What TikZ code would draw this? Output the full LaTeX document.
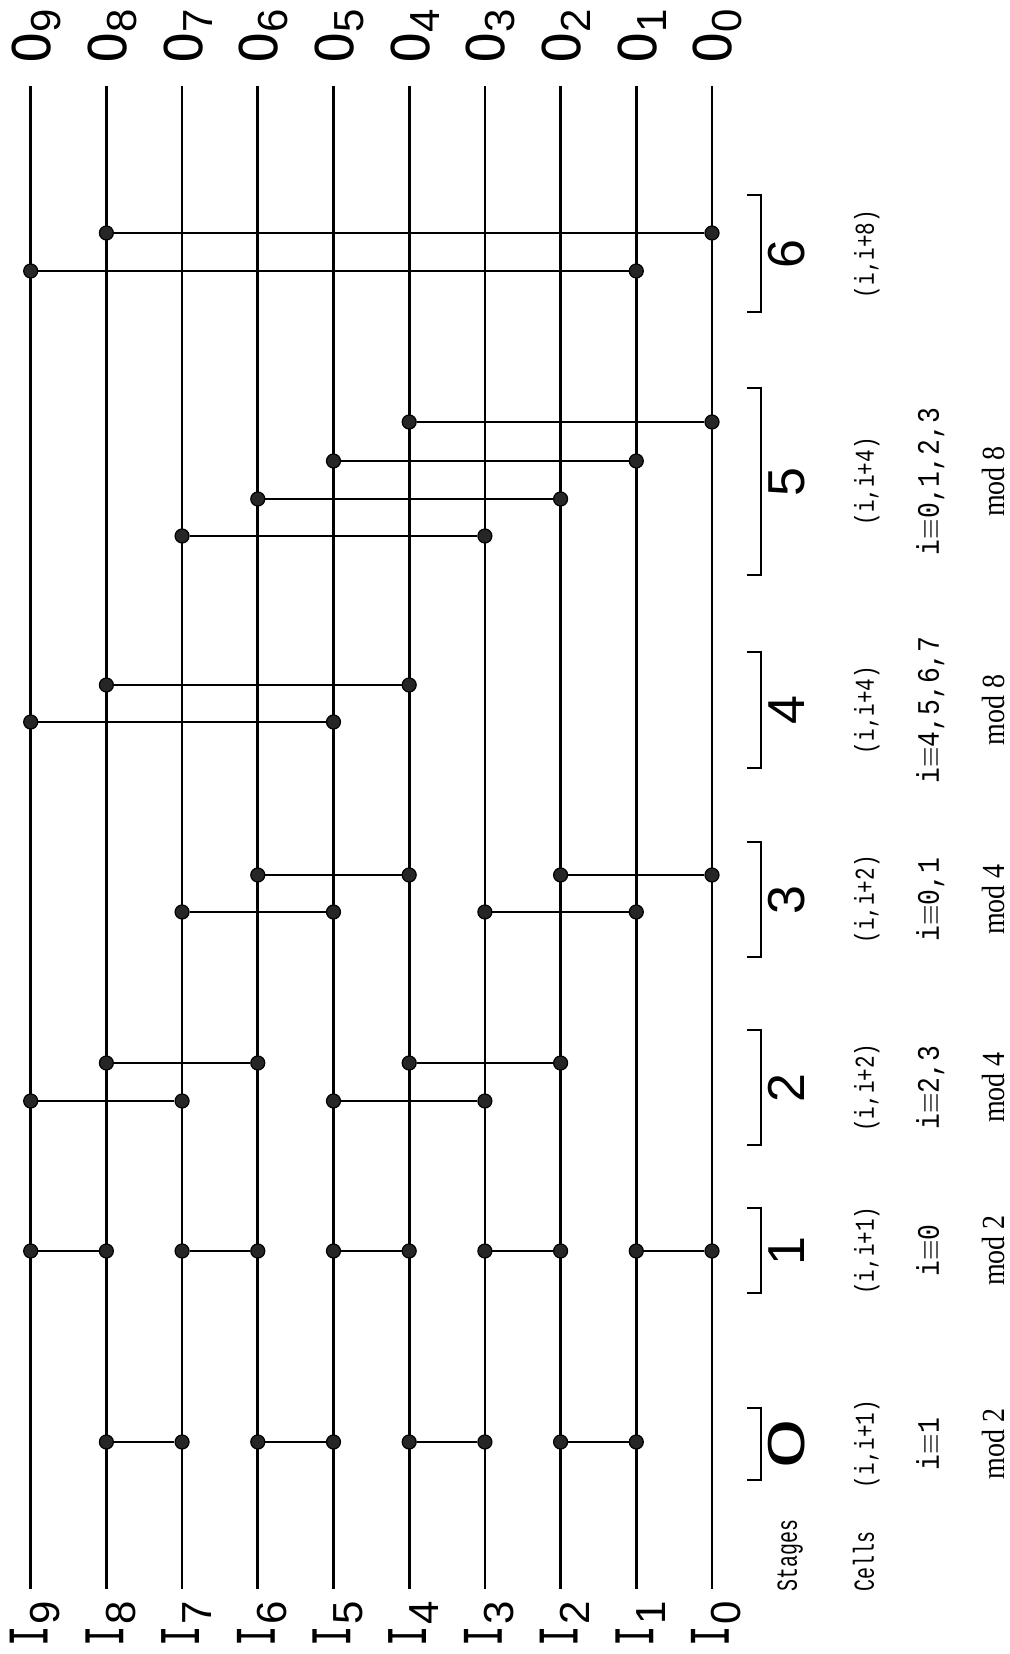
\documentclass[tikz,border=0pt]{standalone}
\usepackage{graphicx}
\usepackage{fontspec}
\setmonofont{Liberation Mono}
\newfontfamily\lblfont{DejaVu Sans Mono}
\newfontfamily\digfont{Liberation Sans}
\newfontfamily\modfont{Liberation Serif}
\newcommand{\subdig}{\digfont\fontsize{21}{21}\selectfont}
\usetikzlibrary{positioning}

\begin{document}
\begin{tikzpicture}[
    x=0.5pt, y=0.5pt, rotate=90,
    every node/.append style={transform shape},
    wire/.style={line width=1.35pt},
    link/.style={line width=1.15pt},
    dot/.style={circle, draw=black, fill=black!85, line width=0.6pt,
                minimum size=7pt, inner sep=0pt},
    brk/.style={line width=1.4pt},
    wlabel/.style={inner sep=0pt, anchor=base west,
                   font=\lblfont\fontsize{26}{26}\selectfont},
    stnum/.style={inner sep=0pt, anchor=base,
                  font=\digfont\fontsize{26}{26}\selectfont},
    head/.style={inner sep=0pt, anchor=base west, yscale=1.45,
                 font=\ttfamily\fontsize{10}{12}\selectfont},
    cell/.style={inner sep=0pt, anchor=base, yscale=1.3,
                 font=\ttfamily\fontsize{10.5}{12}\selectfont},
    cong/.style={inner sep=0pt, anchor=base, yscale=1.3, xscale=1.1,
                 font=\ttfamily\fontsize{12}{14}\selectfont},
    modn/.style={inner sep=0pt, anchor=base, yscale=1.15,
                 font=\modfont\fontsize{14}{16}\selectfont},
  ]
    \useasboundingbox (0,0) rectangle (1654,1009);

    % --- the ten lines, inputs I_k to outputs O_k ---
    \foreach \k in {0,...,9}{
      \pgfmathsetmacro\wy{297+75.7*\k}
      \coordinate (w\k-in) at (65,\wy);
      \coordinate (w\k-out) at (1568,\wy);
      \draw[wire] (w\k-in) -- (w\k-out);
      \node[wlabel] (I\k) at (7,{\wy-17})
        {\scalebox{0.65}[1]{I}\hspace{1pt}\raisebox{-6pt}{\subdig\k}};
      \node[wlabel] (O\k) at (1590,{\wy-20}) {O\raisebox{-5pt}{\subdig\k}};
    }

    % --- cells (i,j) of every stage ---
    \foreach \sx/\a/\b [count=\n] in {212/1/2, 212/3/4, 212/5/6, 212/7/8,
        403/0/1, 403/2/3, 403/4/5, 403/6/7, 403/8/9,
        553/7/9, 553/3/5, 591/6/8, 591/2/4,
        742/5/7, 742/1/3, 779/4/6, 779/0/2,
        932/5/9, 969/4/8,
        1118/3/7, 1155/2/6, 1193/1/5, 1232/0/4,
        1383/1/9, 1421/0/8}{
      \node[dot] (c\n-a) at (\sx,{297+75.7*\a}) {};
      \node[dot] (c\n-b) at (\sx,{297+75.7*\b}) {};
      \draw[link] (c\n-a) -- (c\n-b);
    }

    % --- stage brackets and legend ---
    \node[head] (stages) at (62,212) {Stages};
    \node[head] (cells) at (62,135) {Cells};

    \foreach \s/\xa/\xb/\pr/\cg/\md in {
        0/174/246/{(i,i+1)}/{i${\equiv}$1}/{mod 2},
        1/361/446/{(i,i+1)}/{i${\equiv}$0}/{mod 2},
        2/509/624/{(i,i+2)}/{i${\equiv}$2,3}/{mod 4},
        3/697/812/{(i,i+2)}/{i${\equiv}$0,1}/{mod 4},
        4/886/1002/{(i,i+4)}/{i${\equiv}$4,5,6,7}/{mod 8},
        5/1079/1266/{(i,i+4)}/{i${\equiv}$0,1,2,3}/{mod 8}}{
      \draw[brk] (\xa,262) -- (\xa,248) -- (\xb,248) -- (\xb,262);
      \node[cell] (pair\s) at ({(\xa+\xb)/2},135) {\pr};
      \node[cong] (cong\s) at ({(\xa+\xb)/2},70) {\cg};
      \node[modn] (mod\s) at ({(\xa+\xb)/2},5) {\md};
    }
    \node[stnum, xscale=1.7] (st0) at (210,204) {0};
    \node[stnum] (st1) at (403,204) {1};
    \node[stnum] (st2) at (566,204) {2};
    \node[stnum] (st3) at (754,204) {3};
    \node[stnum] (st4) at (944,204) {4};
    \node[stnum] (st5) at (1172,204) {5};

    \draw[brk] (1342,262) -- (1342,248) -- (1459,248) -- (1459,262);
    \node[stnum] (st6) at (1400,204) {6};
    \node[cell] (pair6) at (1400,135) {(i,i+8)};
\end{tikzpicture}
\end{document}
